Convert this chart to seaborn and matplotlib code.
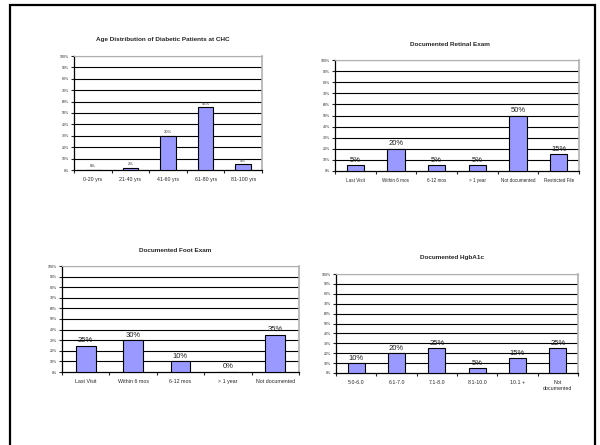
import matplotlib
matplotlib.use("Agg")
import matplotlib.pyplot as plt
import seaborn as sns
from matplotlib.patches import Rectangle

sns.set_style("white")
plt.rcParams['font.family'] = ['Liberation Sans', 'DejaVu Sans']

# Datos
age_cats = ["0-20 yrs", "21-40 yrs", "41-60 yrs", "61-80 yrs", "81-100 yrs"]
age_vals = [0, 2, 30, 55, 5]

retinal_cats = ["Last Visit", "Within 6 mos", "6-12 mos", "> 1 year", "Not documented", "Restricted File"]
retinal_vals = [5, 20, 5, 5, 50, 15]

foot_cats = ["Last Visit", "Within 6 mos", "6-12 mos", "> 1 year", "Not documented"]
foot_vals = [25, 30, 10, 0, 35]

hgb_cats = ["5.0-6.0", "6.1-7.0", "7.1-8.0", "8.1-10.0", "10.1 +", "Not\ndocumented"]
hgb_vals = [10, 20, 25, 5, 15, 25]

yticks = list(range(0, 101, 10))
W, H = 600, 445

fig = plt.figure(figsize=(6, 4.45), dpi=100)


def panel(rect, title, title_xy, cats, vals, xfs, yfs, vfs, title_fs):
    l, t, r, b = rect
    ax = fig.add_axes([l / W, (H - b) / H, (r - l) / W, (b - t) / H])
    sns.barplot(x=cats, y=vals, color="#9999FF", saturation=1, edgecolor="black",
                linewidth=0.8, width=0.42, ax=ax, zorder=3)
    ax.set_ylim(0, 100)
    ax.set_xlim(-0.5, len(cats) - 0.5)
    ax.set_yticks(yticks)
    ax.set_yticklabels([f"{v}%" for v in yticks], fontsize=yfs)
    for v in yticks[1:]:
        ax.axhline(v, color="black", linewidth=0.8, zorder=1)
    ax.set_xticks(range(len(cats)))
    ax.set_xticklabels(cats, fontsize=xfs)
    ax.set_xticks([i + 0.5 for i in range(-1, len(cats))], minor=True)
    ax.tick_params(axis="x", which="major", length=0, pad=5)
    ax.tick_params(axis="x", which="minor", length=2.5, width=0.8, direction="out", bottom=True)
    ax.tick_params(axis="y", length=2.5, width=0.8, direction="out", left=True, pad=1)
    ax.spines["left"].set_color("black")
    ax.spines["bottom"].set_color("black")
    ax.spines["left"].set_linewidth(0.9)
    ax.spines["bottom"].set_linewidth(0.9)
    ax.spines["top"].set_color("#b0b0b0")
    ax.spines["right"].set_color("#b0b0b0")
    ax.spines["right"].set_linewidth(1.2)
    ax.set_xlabel("")
    ax.set_ylabel("")
    for i, v in enumerate(vals):
        ax.text(i, v + 1.5, f"{v}%", ha="center", va="bottom", fontsize=vfs, color="#222222")
    fig.text(title_xy[0] / W, 1 - title_xy[1] / H, title, ha="center", va="center",
             fontsize=title_fs, fontweight="bold")
    return ax


panel((74, 56, 262, 170), "Age Distribution of Diabetic Patients at CHC", (163, 40),
      age_cats, age_vals, 3.8, 2.5, 3.0, 4.6)
panel((335, 60, 579, 171), "Documented Retinal Exam", (450, 44),
      retinal_cats, retinal_vals, 3.3, 2.5, 5.5, 4.6)
panel((62, 266, 299, 372), "Documented Foot Exam", (175, 251),
      foot_cats, foot_vals, 3.8, 2.5, 5.5, 4.6)
panel((336, 274, 578, 373), "Documented HgbA1c", (452, 258),
      hgb_cats, hgb_vals, 3.8, 2.5, 5.5, 4.6)

# Marco exterior
fig.patches.append(Rectangle((10 / W, -0.02), 585 / W, 1 - 5 / H + 0.02,
                             transform=fig.transFigure, fill=False,
                             edgecolor="black", linewidth=1.6))

plt.savefig("out.png", dpi=100)
